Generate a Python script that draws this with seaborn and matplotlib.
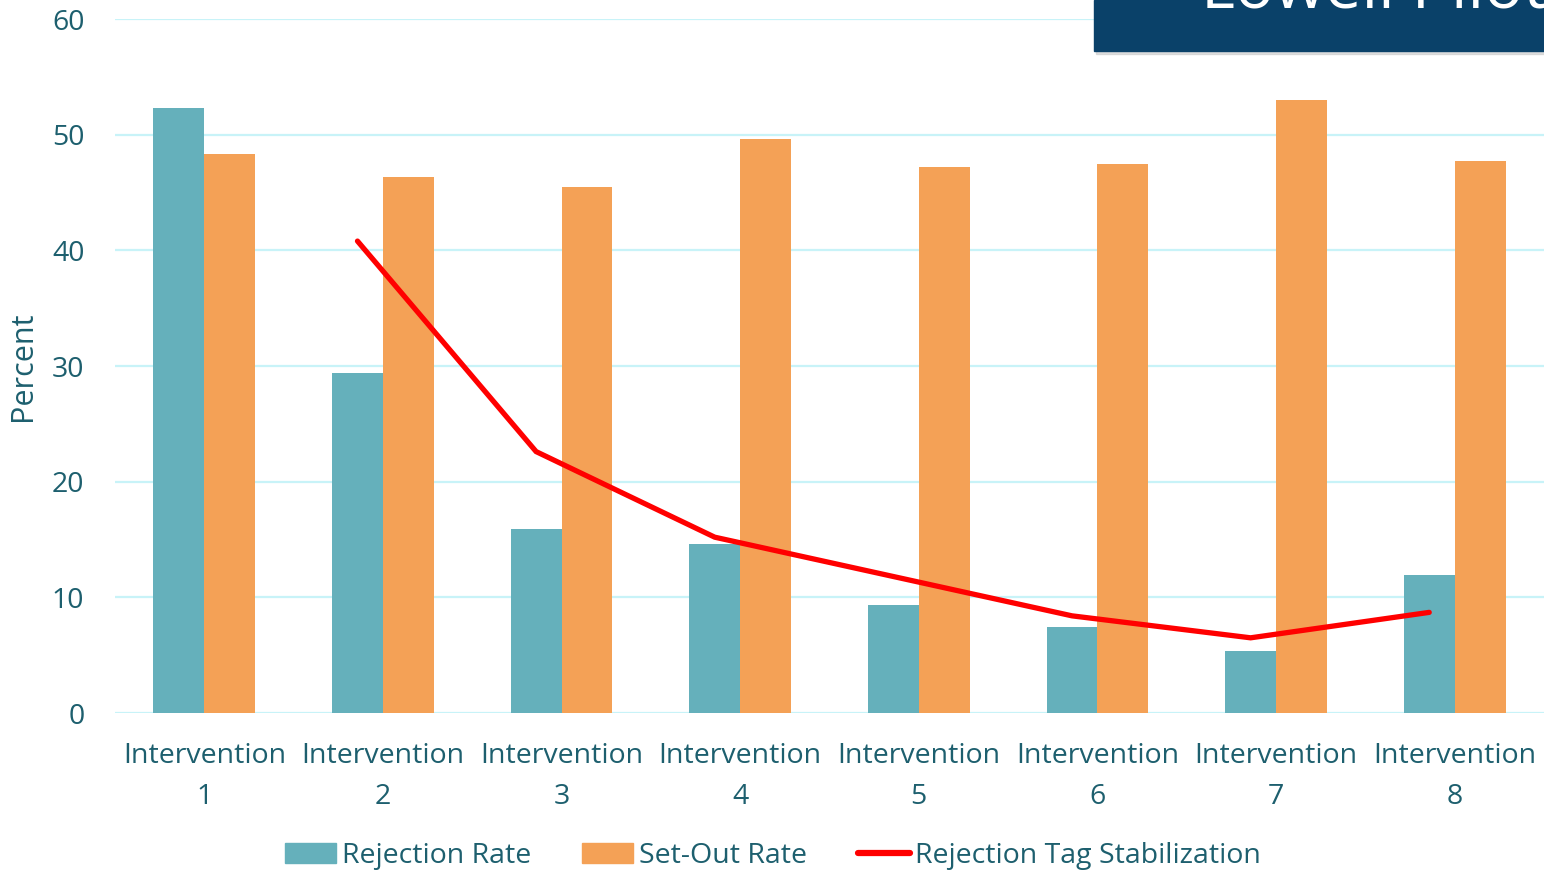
import matplotlib
matplotlib.use("Agg")
from matplotlib import pyplot as plt
from matplotlib.patches import Rectangle
import pandas as pd
import seaborn as sns

sns.set_style("white")
plt.rcParams['font.family'] = ['Open Sans', 'DejaVu Sans']

# data
interventions = ["Intervention\n1", "Intervention\n2", "Intervention\n3", "Intervention\n4",
                 "Intervention\n5", "Intervention\n6", "Intervention\n7", "Intervention\n8"]
rejection_rate = [52.3, 29.4, 15.9, 14.6, 9.3, 7.4, 5.4, 11.9]
setout_rate = [48.3, 46.3, 45.5, 49.6, 47.2, 47.5, 53.0, 47.7]
# line starts at intervention 2
tag_idx = [1, 2, 3, 4, 5, 6, 7]
tag_stabilization = [40.8, 22.6, 15.2, 11.8, 8.4, 6.5, 8.7]

teal = "#65B0BB"
orange = "#F4A156"
txt = "#1D5F6E"
grid_c = "#C8F3F8"

df = pd.DataFrame({
    "Intervention": interventions * 2,
    "Percent": rejection_rate + setout_rate,
    "Series": ["Rejection Rate"] * 8 + ["Set-Out Rate"] * 8,
})

fig = plt.figure(figsize=(15.44, 8.72), dpi=100)
ax = fig.add_axes([115 / 1544, 1 - 713 / 872, 1 - 115 / 1544, (713 - 19) / 872])

sns.barplot(data=df, x="Intervention", y="Percent", hue="Series",
            palette=[teal, orange], width=0.57, gap=0, saturation=1,
            edgecolor="none", legend=False, ax=ax)

# red line sits on the centre of the teal bars
bar_w = 0.57 / 2
ax.plot([i - bar_w / 2 for i in tag_idx], tag_stabilization, color="#FF0000",
        lw=3.8, solid_joinstyle="miter", label="Rejection Tag Stabilization", zorder=5)

ax.set_ylim(0, 60)
ax.set_xlim(-0.5, 7.5)
ax.set_yticks(range(0, 61, 10))
ax.yaxis.grid(True, color=grid_c, lw=1.6)
ax.set_axisbelow(True)
for s in ax.spines.values():
    s.set_visible(False)
ax.tick_params(axis="both", length=0, labelsize=20.5, colors=txt)
ax.tick_params(axis="x", pad=21)
ax.tick_params(axis="y", pad=22)
for lab in ax.get_xticklabels():
    lab.set_linespacing(1.6)
ax.set_xlabel("")
ax.set_ylabel("Percent", fontsize=22, color=txt, labelpad=10)

# legend
handles = [Rectangle((0, 0), 1, 1, color=teal), Rectangle((0, 0), 1, 1, color=orange),
           plt.Line2D([0], [0], color="#FF0000", lw=4.5)]
labels = ["Rejection Rate", "Set-Out Rate", "Rejection Tag Stabilization"]
fig.legend(handles, labels, loc="center", bbox_to_anchor=(773 / 1544, 1 - 856 / 872),
           ncol=3, frameon=False, handlelength=1.8, handleheight=0.75, handletextpad=0.2,
           columnspacing=1.8, labelcolor=txt, prop={"size": 20.5})

# title box in the top-right corner, cut off by the frame
fig.patches.append(Rectangle((1096 / 1544, 1 - 54 / 872), 1, 54 / 872, transform=fig.transFigure,
                             color="#C8C8C8", alpha=0.6, zorder=9))
fig.patches.append(Rectangle((1094 / 1544, 1 - 51 / 872), 1, 51 / 872, transform=fig.transFigure,
                             color="#0A4169", zorder=10))
fig.text(1201 / 1544, 1 - 8 / 872, "Lowell Pilot", color="white", fontsize=47,
         va="baseline", ha="left", zorder=11)

fig.savefig("out.png", dpi=100)
